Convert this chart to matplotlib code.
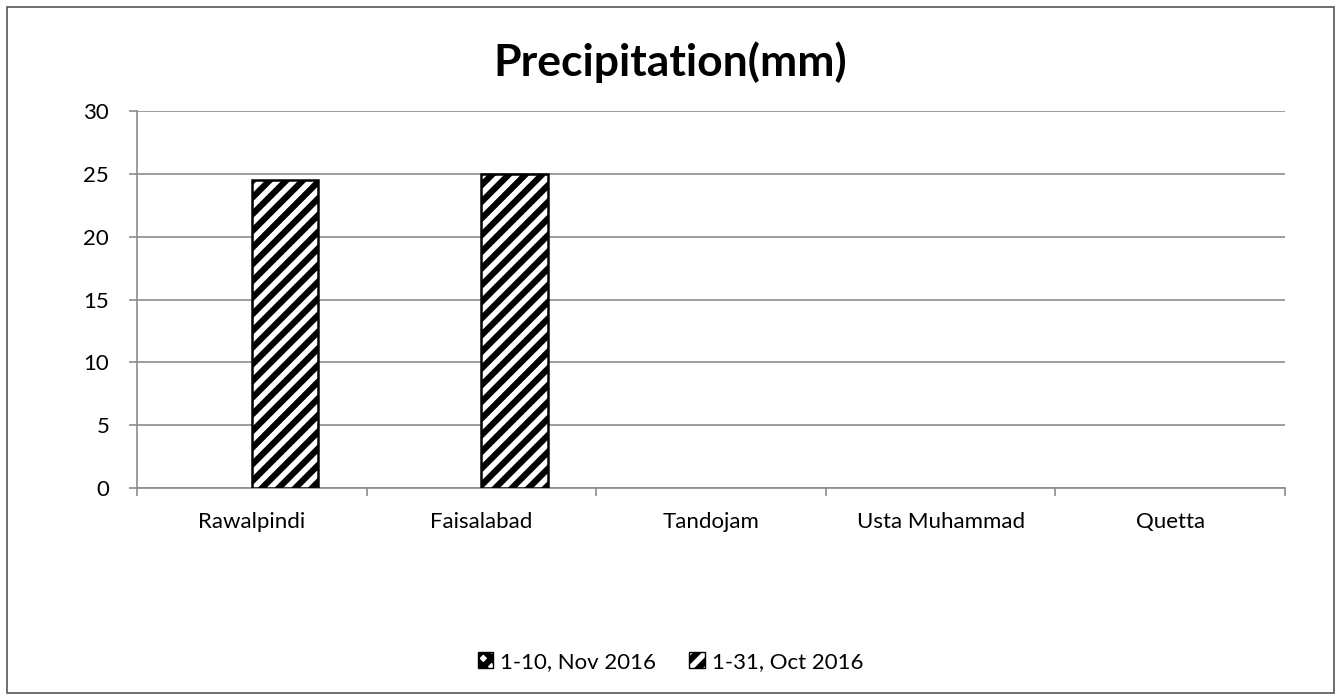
import matplotlib
matplotlib.use("Agg")
import matplotlib.pyplot as plt
import numpy as np
from matplotlib.patches import Patch, Rectangle

categories = ["Rawalpindi", "Faisalabad", "Tandojam", "Usta Muhammad", "Quetta"]
nov_2016 = [0, 0, 0, 0, 0]
oct_2016 = [24.5, 25, 0, 0, 0]
series_labels = ["1-10, Nov 2016", "1-31, Oct 2016"]
yticks = [0, 5, 10, 15, 20, 25, 30]

plt.rcParams['font.family'] = ['Lato', 'DejaVu Sans']
plt.rcParams['hatch.linewidth'] = 4.5

fig = plt.figure(figsize=(13.41, 7.0), dpi=100)
ax = fig.add_axes([137/1341, 1-488/700, (1285-137)/1341, (488-111)/700])

x = np.arange(len(categories))
w = 0.29
def edges(vals):
    return ['black' if v > 0 else 'none' for v in vals]
ax.bar(x - w/2, nov_2016, w, color='white', edgecolor=edges(nov_2016), hatch='xx', linewidth=1.8, zorder=3)
ax.bar(x + w/2, oct_2016, w, color='white', edgecolor=edges(oct_2016), hatch='//', linewidth=1.8, zorder=3)

ax.set_xlim(-0.5, len(categories) - 0.5)
ax.set_ylim(0, 30)
ax.set_yticks(yticks)
ax.set_yticklabels([str(v) for v in yticks], fontsize=16)
ax.set_xticks(x)
ax.set_xticklabels(categories, fontsize=16)
ax.tick_params(axis='x', length=0, pad=17)
ax.set_xticks(np.arange(len(categories) + 1) - 0.5, minor=True)
ax.tick_params(axis='x', which='minor', length=6, color='#8c8c8c', width=1.2, direction='out')
ax.tick_params(axis='y', length=6, color='#8c8c8c', width=1.2, pad=14)
ax.grid(axis='y', color='#8c8c8c', linewidth=1.2, zorder=0)
for s in ['top', 'right']:
    ax.spines[s].set_visible(False)
for s in ['left', 'bottom']:
    ax.spines[s].set_color('#8c8c8c')
    ax.spines[s].set_linewidth(1.2)

fig.text(0.5, 1 - 62/700, "Precipitation(mm)", ha='center', va='center', fontsize=32, fontweight='bold')

handles = [Patch(facecolor='white', edgecolor='black', hatch='xx', label=series_labels[0]),
           Patch(facecolor='white', edgecolor='black', hatch='//', label=series_labels[1])]
fig.legend(handles=handles, loc='center', bbox_to_anchor=(0.5, 1 - 662/700), ncol=2, frameon=False,
           fontsize=16, handlelength=0.7, handleheight=0.7, handletextpad=0.3, columnspacing=1.5)

fig.patches.append(Rectangle((7/1341, 7/700), 1327/1341, 686/700, transform=fig.transFigure,
                             fill=False, edgecolor='#555555', linewidth=1.2))

fig.savefig("out.png", dpi=100)
